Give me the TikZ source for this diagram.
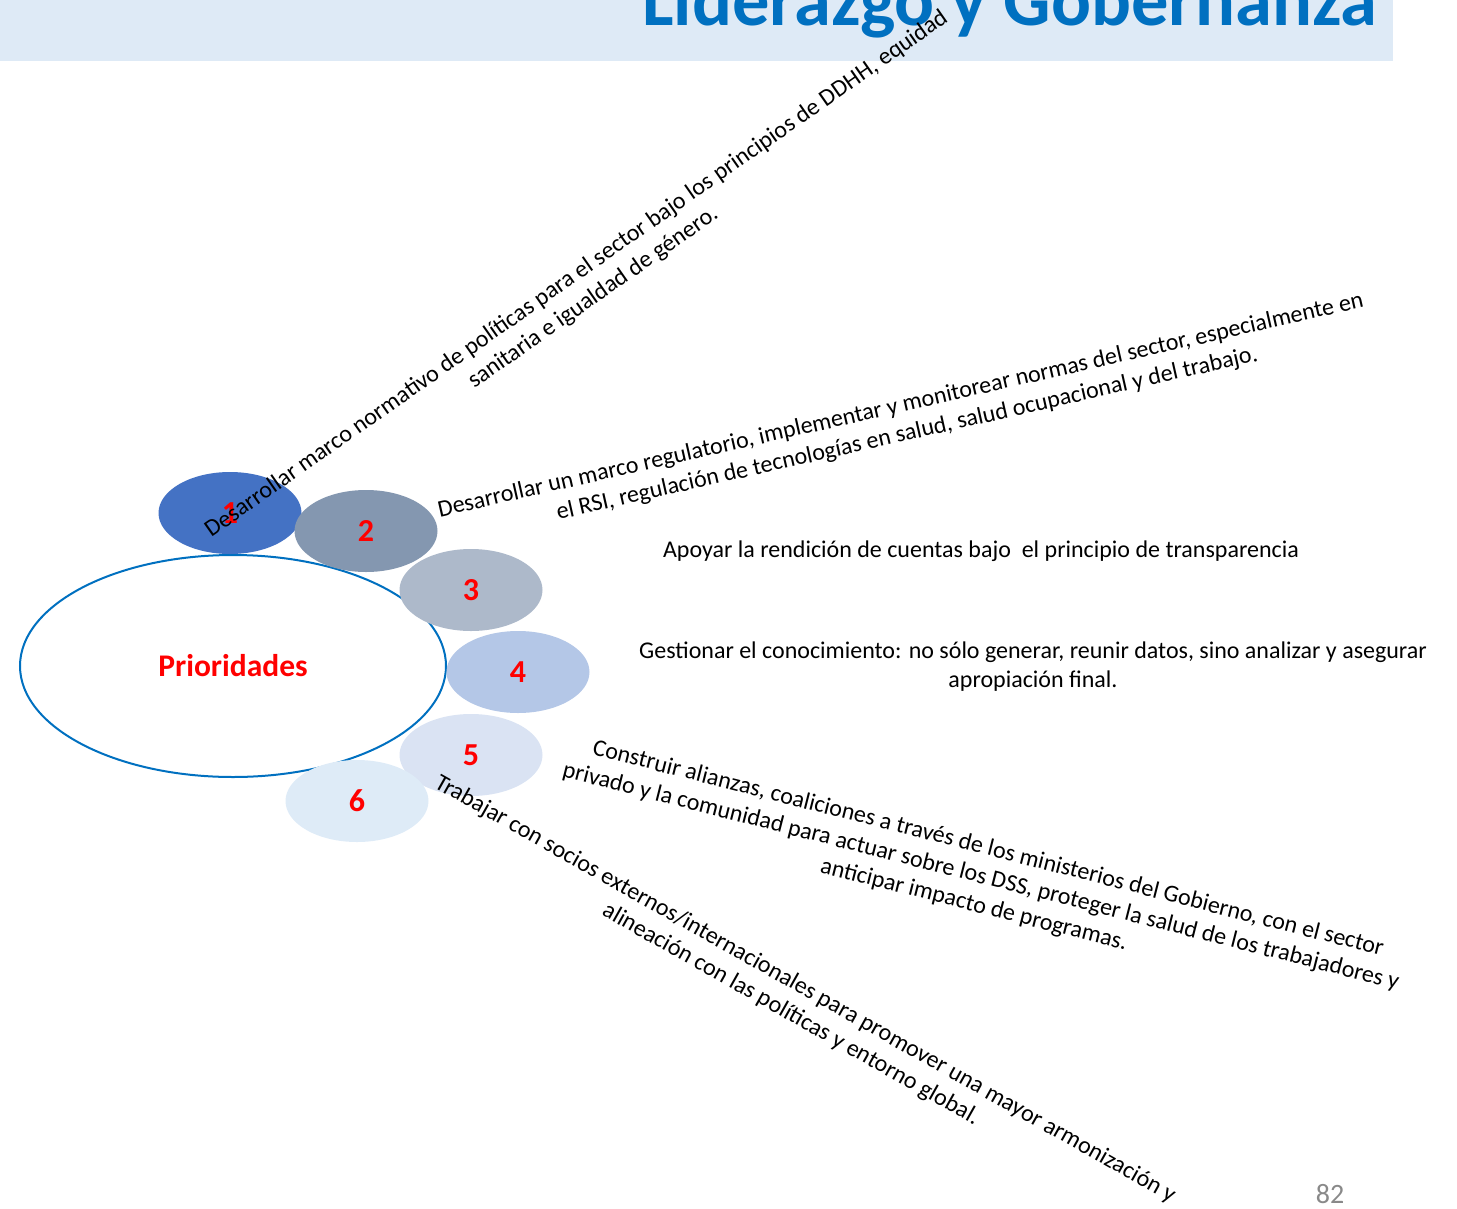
\documentclass[tikz,border=0pt]{standalone}
\usepackage{fontspec}
\setmainfont{Carlito}
\usetikzlibrary{shapes.geometric}
\definecolor{titleblue}{RGB}{0,112,192}
\definecolor{bannerblue}{RGB}{222,234,246}
\definecolor{pone}{RGB}{68,114,196}
\definecolor{ptwo}{RGB}{132,151,176}
\definecolor{pthree}{RGB}{173,185,202}
\definecolor{pfour}{RGB}{180,199,231}
\definecolor{pfive}{RGB}{218,227,243}
\definecolor{psix}{RGB}{222,235,247}
\definecolor{pagegray}{RGB}{137,137,137}
\tikzset{
  x=1pt, y=-1pt,
  bubble/.style={ellipse, inner sep=0pt, minimum width=143pt, minimum height=82pt,
    text=red, font=\fontsize{32}{36}\selectfont\bfseries},
  item/.style={align=center, inner sep=0pt, font=\fontsize{24}{29}\selectfont},
}
\begin{document}
\begin{tikzpicture}
\useasboundingbox (0,0) rectangle (1457,1208);
\clip (0,0) rectangle (1457,1208);
% header band and title
\fill[bannerblue] (0,0) rectangle (1393,61);
\node[anchor=base west, inner sep=0pt, text=titleblue,
  font=\fontsize{74.5}{80}\selectfont\bfseries] (title) at (642,25) {Liderazgo y Gobernanza};
% central ellipse
\node[ellipse, draw=titleblue, line width=2pt, fill=white, minimum width=426pt,
  minimum height=222pt, inner sep=0pt, text=red,
  font=\fontsize{31.5}{34}\selectfont\bfseries] (core) at (233,666) {Prioridades};
% numbered priority bubbles
\node[bubble, fill=pone]   (b1) at (230,513) {1};
\node[bubble, fill=ptwo]   (b2) at (366,531) {2};
\node[bubble, fill=pthree] (b3) at (471,590) {3};
\node[bubble, fill=pfour]  (b4) at (518,672) {4};
\node[bubble, fill=pfive]  (b5) at (471,755) {5};
\node[bubble, fill=psix]   (b6) at (357,801) {6};
% priority statements
\node[item, rotate=35] (t1) at (585,286)
  {Desarrollar marco normativo de políticas para el sector bajo los principios de DDHH, equidad\\sanitaria e igualdad de género.};
\node[item, rotate=12.8] (t2) at (904,420)
  {Desarrollar un marco regulatorio, implementar y monitorear normas del sector, especialmente en\\el RSI, regulación de tecnologías en salud, salud ocupacional y del trabajo.};
\node[item] (t3) at (981,551)
  {Apoyar la rendición de cuentas bajo\ \ el principio de transparencia};
\node[item] (t4) at (1033,667)
  {Gestionar el conocimiento: no sólo generar, reunir datos, sino analizar y asegurar\\apropiación final.};
\node[item, rotate=-14.3] (t5) at (981,877)
  {Construir alianzas, coaliciones a través de los ministerios del Gobierno, con el sector\\privado y la comunidad para actuar sobre los DSS, proteger la salud de los trabajadores y\\anticipar impacto de programas.};
\node[item, rotate=-29.4] (t6) at (798,1002)
  {Trabajar con socios externos/internacionales para promover una mayor armonización y\\alineación con las políticas y entorno global.};
% page number
\node[text=pagegray, inner sep=0pt, font=\fontsize{28}{32}\selectfont] (pg) at (1330,1194) {82};
\end{tikzpicture}
\end{document}
